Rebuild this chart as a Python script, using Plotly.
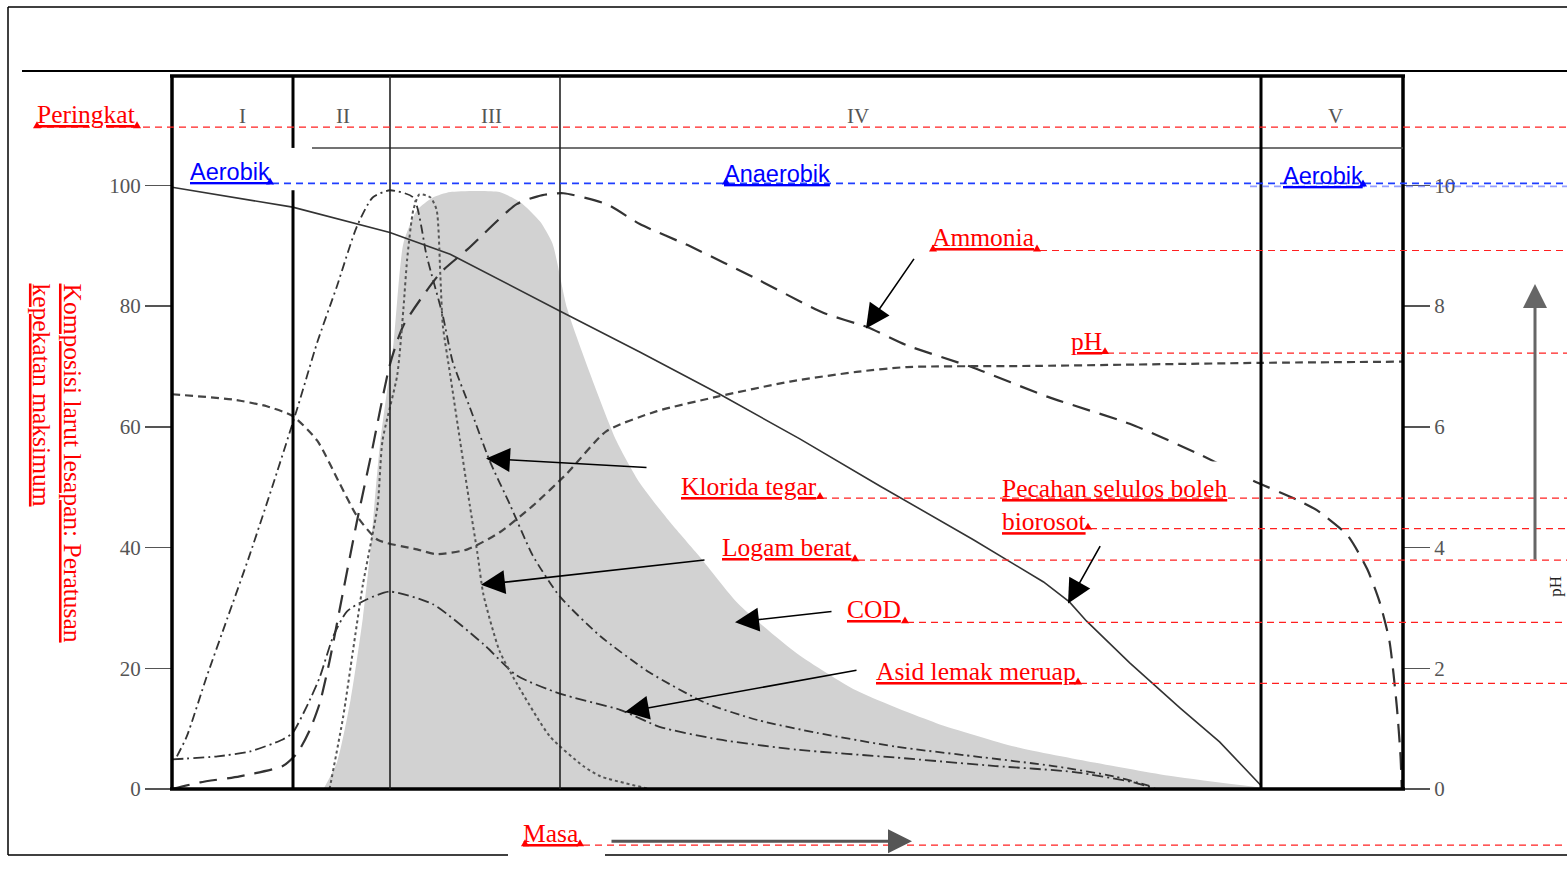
import plotly.graph_objects as go

W, H = 1567, 870

# ---------------- data (time in % of landfill life, concentration in % of max) -------------
stages = ["I", "II", "III", "IV", "V"]

t_cellulose = [0, 9.8, 17.7, 22.6, 31.5, 38.0, 44.5, 51.0, 57.5, 65.1, 70.8, 72.9, 74.3, 77.8, 81.9, 85.1, 88.5]
v_cellulose = [99.7, 96.4, 92.2, 88.6, 79.2, 72.4, 65.4, 58.0, 50.2, 41.3, 34.3, 31.0, 27.8, 20.9, 13.4, 7.8, 0.5]

t_ammonia = [0, 2.3, 5.5, 9.0, 10.2, 11.2, 12.0, 12.8, 13.9, 15.0, 16.2, 17.7, 18.8, 21.8, 24.0, 28.0, 30.1,
             31.8, 35.3, 38.0, 42.1, 47.5, 52.9, 56.5, 59.7, 65.1, 71.1, 77.8, 83.3, 87.8, 91.4, 93.0,
             95.5, 97.1, 98.1, 98.9, 99.5, 99.8, 99.9]
v_ammonia = [0, 1.1, 2.1, 3.8, 6.0, 9.8, 14.2, 21.2, 32.7, 44.1, 55.6, 70.3, 76.8, 85.5, 89.4, 96.9, 98.4,
             98.7, 96.9, 93.6, 89.9, 84.5, 78.9, 76.5, 73.5, 69.8, 65.0, 60.5, 55.6, 51.1, 47.9, 46.2,
             42.0, 36.4, 31.0, 24.5, 13.6, 5.4, 0]

t_ph = [0, 5.0, 7.7, 9.8, 11.8, 13.6, 15.0, 16.7, 19.9, 21.5, 24.0, 26.6, 29.3, 32.1, 35.3, 39.4, 44.3,
        50.2, 55.6, 59.7, 70.5, 88.4, 100]
v_ph = [6.54, 6.45, 6.34, 6.18, 5.77, 5.07, 4.53, 4.13, 3.97, 3.89, 3.97, 4.25, 4.69, 5.23, 5.93, 6.26,
        6.50, 6.75, 6.91, 6.99, 7.01, 7.06, 7.08]

t_chloride = [0.4, 1.2, 2.8, 4.5, 6.3, 8.5, 10.2, 11.8, 13.4, 15.0, 16.3, 17.7, 19.6, 20.7, 22.0, 22.8,
              24.2, 25.8, 27.5, 29.3, 31.5, 34.8, 38.8, 43.4, 47.6, 52.4, 58.8, 65.2, 71.6, 76.5, 79.4]
v_chloride = [5.4, 8.7, 18.5, 28.3, 38.7, 52.3, 63.2, 74.0, 83.3, 93.1, 98.0, 99.2, 98.0, 88.2, 78.4, 70.8,
              63.2, 54.4, 46.9, 38.7, 31.9, 25.3, 19.3, 14.2, 11.4, 9.3, 7.0, 5.4, 3.8, 2.1, 0.5]

t_vfa = [0, 3.7, 6.3, 9.0, 9.8, 11.0, 12.0, 13.1, 14.2, 15.8, 17.7, 21.2, 25.3, 28.0, 31.5, 36.4, 39.6,
         44.4, 50.8, 58.8, 66.9, 73.3, 78.1, 79.9]
v_vfa = [4.9, 5.4, 6.2, 8.2, 9.3, 13.9, 18.5, 25.3, 29.4, 31.4, 32.7, 30.6, 24.0, 18.8, 15.8, 13.1, 10.3,
         8.2, 6.5, 5.2, 3.8, 2.8, 1.1, 0]

t_metals = [12.8, 13.9, 14.7, 15.5, 16.7, 17.1, 18.3, 18.8, 19.1, 19.6, 20.1, 21.0, 21.5, 21.8, 22.0, 22.6,
            23.4, 24.2, 24.8, 25.3, 26.6, 28.0, 30.7, 33.4, 34.8, 38.8]
v_metals = [0, 11.9, 22.9, 33.8, 46.9, 57.7, 68.6, 79.6, 87.7, 95.9, 98.5, 98.0, 95.9, 85.0, 76.8, 68.6,
            57.7, 46.9, 39.2, 32.2, 22.9, 17.5, 8.7, 3.8, 2.1, 0]

t_cod = [12.3, 13.4, 14.5, 15.5, 16.1, 16.9, 18.0, 18.8, 19.9, 21.2, 22.6, 26.6, 28.3, 29.9, 30.9, 32.1,
         34.0, 36.1, 38.0, 40.5, 42.9, 46.0, 50.8, 55.6, 62.1, 68.5, 74.9, 81.3, 88.5]
v_cod = [0, 4.4, 14.7, 28.3, 39.2, 57.2, 74.0, 90.4, 95.9, 98.0, 98.9, 98.9, 97.2, 94.0, 90.4, 79.6,
         68.6, 57.7, 50.7, 44.1, 38.4, 30.7, 22.4, 16.3, 10.9, 7.0, 4.4, 2.1, 0.2]

y_ticks = [0, 20, 40, 60, 80, 100]
ph_ticks = [0, 2, 4, 6, 8, 10]

# ---------------- helpers for page-pixel placement ----------------
def X(px):
    return px / W

def Y(py):
    return 1 - py / H

PLOT_L, PLOT_R, PLOT_B, PLOT_T = 172, 1403, 800, 75
PX_PER_UNIT = 6.12
y_top = (PLOT_B - PLOT_T) / PX_PER_UNIT

fig = go.Figure()

fig.add_trace(go.Scatter(x=t_cod, y=v_cod, mode="none", fill="tozeroy", fillcolor="#d2d2d2",
                         line=dict(shape="spline", smoothing=0.6), hoverinfo="skip"))
fig.add_trace(go.Scatter(x=t_cellulose, y=v_cellulose, mode="lines",
                         line=dict(color="#333333", width=1.6), hoverinfo="skip"))
fig.add_trace(go.Scatter(x=t_ammonia, y=v_ammonia, mode="lines",
                         line=dict(color="#333333", width=2.2, dash="18px,10px", shape="spline", smoothing=0.6),
                         hoverinfo="skip"))
fig.add_trace(go.Scatter(x=t_chloride, y=v_chloride, mode="lines",
                         line=dict(color="#333333", width=1.8, dash="9px,4px,2px,4px", shape="spline", smoothing=0.6),
                         hoverinfo="skip"))
fig.add_trace(go.Scatter(x=t_vfa, y=v_vfa, mode="lines",
                         line=dict(color="#333333", width=1.8, dash="11px,4px,2px,4px", shape="spline", smoothing=0.6),
                         hoverinfo="skip"))
fig.add_trace(go.Scatter(x=t_metals, y=v_metals, mode="lines",
                         line=dict(color="#555555", width=2, dash="dot", shape="spline", smoothing=0.6),
                         hoverinfo="skip"))
fig.add_trace(go.Scatter(x=t_ph, y=v_ph, mode="lines", yaxis="y2",
                         line=dict(color="#444444", width=2.2, dash="8px,5px", shape="spline", smoothing=0.6),
                         hoverinfo="skip"))

tickfont = dict(family="Liberation Serif", size=21, color="#555555")
fig.update_layout(
    autosize=True,
    margin=dict(l=0, r=0, t=0, b=0),
    paper_bgcolor="white", plot_bgcolor="rgba(0,0,0,0)",
    showlegend=False, hovermode=False,
    xaxis=dict(domain=[X(PLOT_L), X(PLOT_R)], range=[0, 100], visible=False, fixedrange=True),
    yaxis=dict(domain=[Y(PLOT_B), Y(PLOT_T)], range=[0, y_top], tickvals=y_ticks,
               ticks="outside", ticklen=26, tickwidth=1.5, tickcolor="#555555",
               showgrid=False, zeroline=False, showline=False, tickfont=tickfont, fixedrange=True),
    yaxis2=dict(overlaying="y", side="right", anchor="x", range=[0, y_top / 10], tickvals=ph_ticks,
                ticks="outside", ticklen=26, tickwidth=1.5, tickcolor="#555555",
                showgrid=False, zeroline=False, showline=False, tickfont=tickfont, fixedrange=True),
)

shapes = []

def line(x0, y0, x1, y1, color="black", width=1.5, dash="solid"):
    shapes.append(dict(type="line", xref="paper", yref="paper", x0=X(x0), y0=Y(y0), x1=X(x1), y1=Y(y1),
                       line=dict(color=color, width=width, dash=dash), layer="above"))

def tri(x, y, color):
    shapes.append(dict(type="path", xref="paper", yref="paper",
                       path=f"M {X(x - 4)},{Y(y + 1)} L {X(x + 4)},{Y(y + 1)} L {X(x)},{Y(y - 6)} Z",
                       fillcolor=color, line=dict(color=color, width=0), layer="above"))

# white text box behind "Pecahan selulos boleh biorosot" (hides curve segments as in the source)
shapes.append(dict(type="rect", xref="paper", yref="paper", x0=X(998), x1=X(1248), y0=Y(534), y1=Y(468),
                   fillcolor="white", line=dict(width=0), layer="above"))

# page border lines
line(8, 7, 1567, 7, width=1.5)
line(8, 7, 8, 867, width=1.5)
line(8, 867, 508, 867, width=1.5)
line(605, 867, 1567, 867, width=1.5)
line(22, 72, 1567, 72, width=2)

# chart frame
line(170, 77, 1405, 77, width=3.5)
line(172, 77, 172, 801, width=3.5)
line(1403, 77, 1403, 801, width=3.5)
line(170, 800, 1405, 800, width=3.5)
line(312, 150, 1403, 150, color="#444444", width=1.5)
# stage dividers
line(293, 77, 293, 150, width=3)
line(293, 193, 293, 800, width=3)
line(390, 77, 390, 800, color="#222222", width=1.6)
line(560, 77, 560, 800, color="#222222", width=1.6)
line(1261, 77, 1261, 800, width=3)

# red dashed guide lines
red = "#ff2020"
for (x0, yy) in [(35, 129), (1040, 254), (1107, 358), (820, 505), (1090, 536), (858, 568),
                 (907, 631), (1080, 693), (583, 857)]:
    line(x0, yy, 1567, yy, color=red, width=1.2, dash="7px,5px")
# blue dashed lines
line(272, 186, 1567, 186, color="#1f3fff", width=1.8, dash="7px,5px")
line(1250, 189, 1567, 189, color="rgba(60,80,255,0.55)", width=1.6, dash="7px,5px")

# small field markers at ends of the underlines
for (x, y) in [(37, 129), (137, 129), (933, 254), (1037, 254), (1105, 358), (820, 505),
               (1088, 536), (855, 568), (905, 631), (1078, 693), (525, 857), (580, 857)]:
    tri(x, y, "red")
for (x, y) in [(270, 186), (726, 186), (1363, 188)]:
    tri(x, y, "blue")

fig.update_layout(shapes=shapes)

ann = []

def text(t, x, y, size=25.5, color="red", family="Liberation Serif", xanchor="left", yanchor="middle",
         angle=0, align="left"):
    ann.append(dict(text=t, xref="paper", yref="paper", x=X(x), y=Y(y), xanchor=xanchor, yanchor=yanchor,
                    showarrow=False, textangle=angle, align=align,
                    font=dict(family=family, size=size, color=color)))

stage_x = [242, 343, 492, 858, 1335]
for s, sx in zip(stages, stage_x):
    text(s, sx, 118, size=21, color="#555555", xanchor="center")

text("<u>Peringkat</u>", 35, 116)
text("<u>Aerobik</u>", 188, 174, size=23.5, color="#0000ff", family="Liberation Sans")
text("<u>Anaerobik</u>", 722, 176, size=23.5, color="#0000ff", family="Liberation Sans")
text("<u>Aerobik</u>", 1281, 178, size=23.5, color="#0000ff", family="Liberation Sans")
text("<u>Ammonia</u>", 930, 241)
text("<u>pH</u>", 1069, 346)
text("<u>Klorida tegar</u>", 679, 493)
text("<u>Pecahan selulos boleh</u><br><u>biorosot</u>", 1000, 479, yanchor="top")
text("<u>Logam berat</u>", 720, 555)
text("<u>COD</u>", 845, 618)
text("<u>Asid lemak meruap</u>", 874, 681)
text("<u>Masa</u>", 521, 845)
text("<u>Komposisi larut lesapan: Peratusan</u>", 72, 469, xanchor="center", angle=90)
text("<u>kepekatan maksimum</u>", 42, 400, xanchor="center", angle=90)
text("pH", 1556, 595, size=17, color="#222222", xanchor="center", angle=-90)

def arrow(tail, head, color="black", width=1.6, size=3.0):
    ann.append(dict(text="", xref="paper", yref="paper", x=X(head[0]), y=Y(head[1]),
                    ax=tail[0] - head[0], ay=tail[1] - head[1], axref="pixel", ayref="pixel",
                    showarrow=True, arrowhead=2, arrowsize=size, arrowwidth=width, arrowcolor=color))

arrow((915, 262), (866, 333))
arrow((648, 474), (486, 465))
arrow((706, 568), (481, 593))
arrow((833, 620), (735, 631))
arrow((858, 680), (625, 722))
arrow((1101, 553), (1068, 612))
arrow((610, 853), (912, 853), color="#555555", width=3, size=1.6)
arrow((1535, 565), (1535, 288), color="#666666", width=3, size=1.6)

fig.update_layout(annotations=ann)

post = ("document.documentElement.style.margin='0';document.body.style.margin='0';"
        "document.documentElement.style.overflow='hidden';document.body.style.overflow='hidden';"
        "var d=document.getElementsByClassName('plotly-graph-div')[0];"
        "d.style.position='fixed';d.style.top='0px';d.style.left='0px';")
fig.write_html("out.html", config={"displayModeBar": False, "staticPlot": True, "responsive": True},
               default_width="100vw", default_height="100vh", post_script=post)
